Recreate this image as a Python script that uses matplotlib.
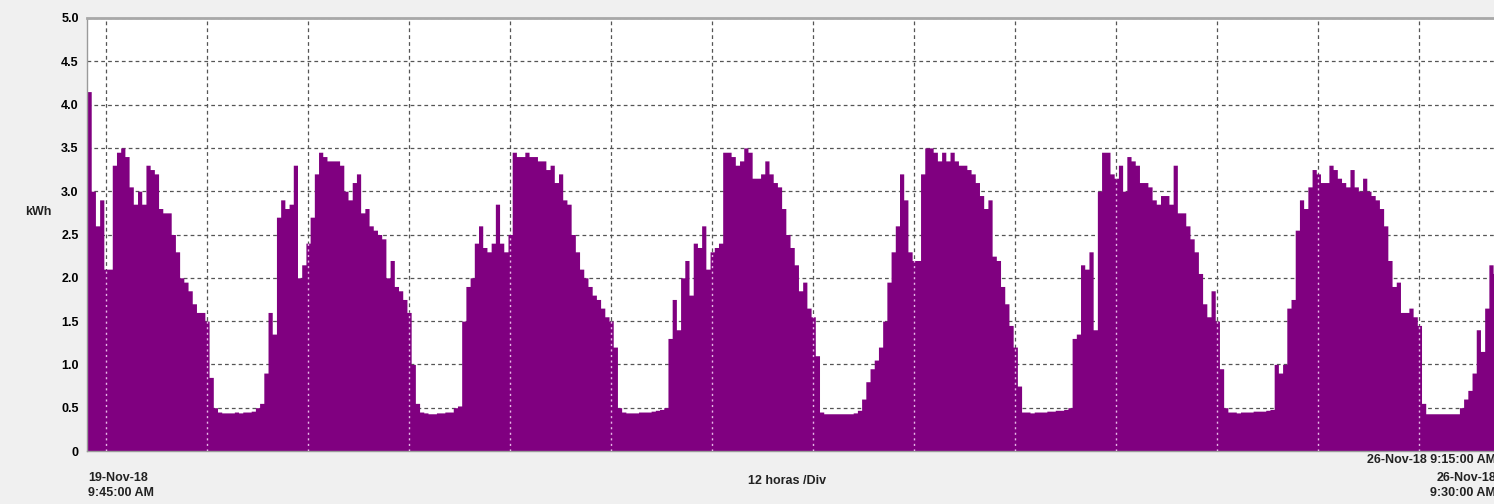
import numpy as np
import pandas as pd
import matplotlib
matplotlib.use("Agg")
import matplotlib.pyplot as plt
import matplotlib.dates as mdates

# half hour readings (kWh), one list per day
nov19 = [4.15, 3.0, 2.6, 2.9, 2.1, 2.1, 3.3, 3.45, 3.5, 3.4, 3.05, 2.85, 3.0, 2.85, 3.3,
         3.25, 3.2, 2.8, 2.75, 2.75, 2.5, 2.3, 2.0, 1.95, 1.85, 1.7, 1.6, 1.6, 1.5]
nov20 = [0.85, 0.5, 0.45, 0.44, 0.44, 0.44, 0.45, 0.44, 0.45, 0.45,
         0.46, 0.5, 0.55, 0.9, 1.6, 1.35, 2.7, 2.9, 2.8, 2.85,
         3.3, 2.0, 2.15, 2.4, 2.7, 3.2, 3.45, 3.4, 3.35, 3.35,
         3.35, 3.3, 3.0, 2.9, 3.1, 3.2, 2.75, 2.8, 2.6, 2.55,
         2.5, 2.45, 2.0, 2.2, 1.9, 1.85, 1.75, 1.6]
nov21 = [1.0, 0.55, 0.45, 0.44, 0.43, 0.43, 0.44, 0.44, 0.45, 0.45,
         0.5, 0.52, 1.5, 1.9, 2.0, 2.4, 2.6, 2.35, 2.3, 2.4,
         2.85, 2.4, 2.3, 2.5, 3.45, 3.4, 3.4, 3.45, 3.4, 3.4,
         3.35, 3.35, 3.25, 3.3, 3.1, 3.2, 2.9, 2.85, 2.5, 2.3,
         2.1, 2.0, 1.9, 1.8, 1.75, 1.65, 1.55, 1.5]
nov22 = [1.2, 0.5, 0.45, 0.44, 0.44, 0.44, 0.45, 0.45, 0.45, 0.46,
         0.47, 0.48, 0.5, 1.3, 1.75, 1.4, 2.0, 2.2, 1.8, 2.4,
         2.35, 2.6, 2.1, 2.3, 2.35, 2.4, 3.45, 3.45, 3.4, 3.3,
         3.35, 3.5, 3.45, 3.15, 3.15, 3.2, 3.35, 3.2, 3.1, 3.05,
         2.8, 2.5, 2.35, 2.15, 1.85, 1.95, 1.65, 1.55]
nov23 = [1.1, 0.45, 0.43, 0.43, 0.43, 0.43, 0.43, 0.43, 0.43, 0.44,
         0.47, 0.6, 0.8, 0.95, 1.05, 1.2, 1.5, 1.95, 2.3, 2.6,
         3.2, 2.9, 2.3, 2.2, 2.2, 3.2, 3.5, 3.5, 3.45, 3.35,
         3.45, 3.35, 3.45, 3.35, 3.3, 3.3, 3.25, 3.2, 3.1, 2.95,
         2.8, 2.9, 2.25, 2.2, 1.9, 1.7, 1.45, 1.2]
nov24 = [0.75, 0.45, 0.45, 0.44, 0.45, 0.45, 0.45, 0.46, 0.46, 0.47,
         0.47, 0.48, 0.5, 1.3, 1.35, 2.15, 2.1, 2.3, 1.4, 3.0,
         3.45, 3.45, 3.2, 3.15, 3.3, 3.0, 3.4, 3.35, 3.3, 3.1,
         3.1, 3.05, 2.9, 2.85, 2.95, 2.95, 2.85, 3.3, 2.75, 2.75,
         2.6, 2.45, 2.3, 2.05, 1.7, 1.55, 1.85, 1.5]
nov25 = [0.95, 0.5, 0.45, 0.45, 0.44, 0.45, 0.45, 0.45, 0.46, 0.46,
         0.46, 0.47, 0.48, 1.0, 0.9, 1.0, 1.65, 1.75, 2.55, 2.9,
         2.8, 3.05, 3.25, 3.2, 3.1, 3.1, 3.3, 3.25, 3.15, 3.1,
         3.05, 3.25, 3.05, 3.0, 3.15, 3.0, 2.95, 2.9, 2.8, 2.6,
         2.2, 1.9, 1.95, 1.6, 1.6, 1.65, 1.55, 1.45]
nov26 = [0.55, 0.43, 0.43, 0.43, 0.43, 0.43, 0.43, 0.43, 0.43, 0.5,
         0.6, 0.7, 0.9, 1.4, 1.15, 1.65, 2.15, 2.05, 2.1]

y_ticks = [0, 0.5, 1.0, 1.5, 2.0, 2.5, 3.0, 3.5, 4.0, 4.5, 5.0]
y_labels = ["0", "0.5", "1.0", "1.5", "2.0", "2.5", "3.0", "3.5", "4.0", "4.5", "5.0"]

kwh = np.array(nov19 + nov20 + nov21 + nov22 + nov23 + nov24 + nov25 + nov26)
times = pd.date_range("2018-11-19 09:45", periods=len(kwh) + 1, freq="30min")
vals = np.append(kwh, kwh[-1])

fig = plt.figure(figsize=(14.94, 5.04), dpi=100)
fig.patch.set_facecolor("#f0f0f0")
ax = fig.add_axes([87 / 1494, 53 / 504, 1412.4 / 1494, 433 / 504])
ax.set_facecolor("white")

purple = "#800080"
poly = ax.fill_between(times, 0, vals, step="post", color=purple, lw=0, zorder=2)

t0 = pd.Timestamp("2018-11-19 09:45")
t1 = pd.Timestamp("2018-11-26 09:30")
ax.set_xlim(t0, t1)
ax.set_ylim(0, 5)

# grid
ax.set_axisbelow(True)
ax.xaxis.set_major_locator(mdates.HourLocator(byhour=[0, 12]))
ax.grid(True, which="major", color="#555555", linestyle=(0, (3, 2.5)), linewidth=0.9)
ax.set_yticks(y_ticks)
ax.set_yticklabels(y_labels)

# light dotted grid where the fill covers it
grid_times = pd.date_range("2018-11-19 12:00", "2018-11-26 00:00", freq="12h")
vl = ax.vlines(grid_times, 0, 5, colors="#e8b8e8", linestyles=(0, (1.5, 2.5)),
               linewidth=1.0, zorder=3)
vl.set_clip_path(poly.get_paths()[0], poly.get_transform())

ax.tick_params(axis="x", length=0, labelbottom=False)
ax.tick_params(axis="y", length=0, pad=6)
for lab in ax.get_yticklabels():
    lab.set_fontweight("bold")
    lab.set_fontsize(9)
    lab.set_family("Liberation Sans")

for s in ["left", "bottom", "right"]:
    ax.spines[s].set_color("#9a9a9a")
    ax.spines[s].set_linewidth(1.0)
ax.spines["top"].set_color("#a8a8a8")
ax.spines["top"].set_linewidth(2.0)

font = dict(family="Liberation Sans", fontsize=9, color="#222222", fontweight="bold")
fig.text(25 / 1494, 1 - 212 / 504, "kWh", va="center", **font)
fig.text(88 / 1494, 1 - 478 / 504, "19-Nov-18", va="center", **font)
fig.text(88 / 1494, 1 - 493 / 504, "9:45:00 AM", va="center", **font)
fig.text(787 / 1494, 1 - 481 / 504, "12 horas /Div", ha="center", va="center", **font)
fig.text(1496 / 1494, 1 - 460 / 504, "26-Nov-18 9:15:00 AM", ha="right", va="center", **font)
fig.text(1496 / 1494, 1 - 478 / 504, "26-Nov-18", ha="right", va="center", **font)
fig.text(1496 / 1494, 1 - 493 / 504, "9:30:00 AM", ha="right", va="center", **font)

fig.savefig("out.png", dpi=100, facecolor=fig.get_facecolor())
